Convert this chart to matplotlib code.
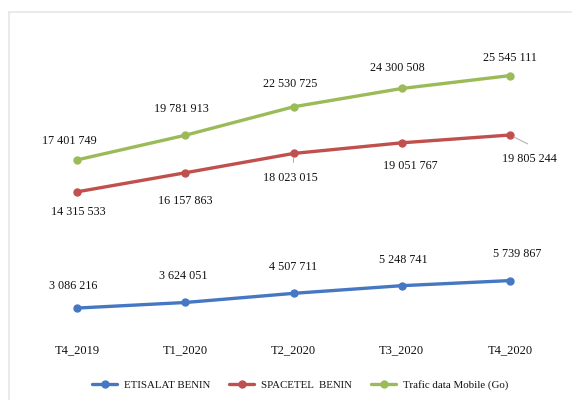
import matplotlib.pyplot as plt
from matplotlib.lines import Line2D

plt.rcParams["font.family"] = ["Liberation Serif", "DejaVu Serif"]

trimestres = ["T4_2019", "T1_2020", "T2_2020", "T3_2020", "T4_2020"]
etisalat = [3086216, 3624051, 4507711, 5248741, 5739867]
spacetel = [14315533, 16157863, 18023015, 19051767, 19805244]
trafic = [17401749, 19781913, 22530725, 24300508, 25545111]

# position des etiquettes (decalage en pixels par rapport au point)
off_etisalat = [(-4, 22), (-2, 26), (0, 26), (2, 26), (7, 27)]
off_spacetel = [(1, -20), (0, -28), (-3, -25), (9, -23), (20, -24)]
off_trafic = [(-8, 19), (-4, 26), (-3, 23), (-4, 20), (0, 18)]

c_bleu = "#4677C2"
c_rouge = "#C0504D"
c_vert = "#9BBB59"


def fmt(v):
    return f"{v:,}".replace(",", " ")


fig = plt.figure(figsize=(5.72, 4.0), dpi=100)
fig.patch.set_facecolor("white")

# cadre gris clair (bords gauche et haut visibles)
fig.add_artist(Line2D([9 / 572, 9 / 572], [0, 1 - 12 / 400], color="#E6E6E6", lw=1.2))
fig.add_artist(Line2D([9 / 572, 1], [1 - 12 / 400, 1 - 12 / 400], color="#E6E6E6", lw=1.2))

ax = fig.add_axes([23 / 572, 60 / 400, 541 / 572, 310.5 / 400])
x = list(range(len(trimestres)))

series = [
    ("ETISALAT BENIN", etisalat, c_bleu, off_etisalat),
    ("SPACETEL  BENIN", spacetel, c_rouge, off_spacetel),
    ("Trafic data Mobile (Go)", trafic, c_vert, off_trafic),
]
for nom, vals, col, offs in series:
    ax.plot(x, vals, color=col, lw=2.4, marker="o", ms=5, label=nom,
            solid_capstyle="round")
    for xi, v, (dx, dy) in zip(x, vals, offs):
        ax.annotate(fmt(v), (xi, v), xytext=(dx, dy), textcoords="offset pixels",
                    ha="center", va="center", fontsize=8.7, color="#111111")

# petites lignes de rappel
ax.annotate("", (4, spacetel[4]), xytext=(18, -9), textcoords="offset pixels",
            arrowprops=dict(arrowstyle="-", color="#AAAAAA", lw=0.7,
                            shrinkA=0, shrinkB=3))
ax.annotate("", (2, spacetel[2]), xytext=(0, -9), textcoords="offset pixels",
            arrowprops=dict(arrowstyle="-", color="#AAAAAA", lw=0.7,
                            shrinkA=0, shrinkB=3))

ax.set_xlim(-0.5, 4.5)
ax.set_ylim(0, 30000000)
ax.set_xticks(x)
ax.set_xticklabels(trimestres, fontsize=9, color="#111111")
ax.set_yticks([])
ax.tick_params(axis="x", length=0, pad=3)
for s in ax.spines.values():
    s.set_visible(False)

fig.legend(loc="center", bbox_to_anchor=(300 / 572, 15 / 400), ncol=3,
           frameon=False, fontsize=7.8, handlelength=2.3, handletextpad=0.6,
           columnspacing=1.8, labelcolor="#111111")

fig.savefig("out.png", dpi=100)
